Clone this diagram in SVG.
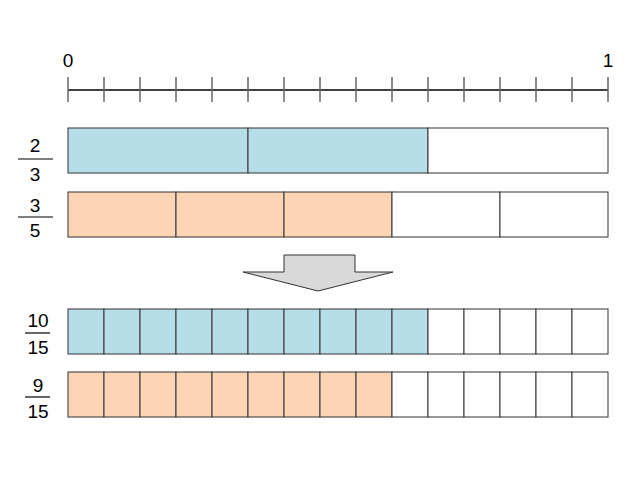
<svg xmlns="http://www.w3.org/2000/svg" width="640" height="480" viewBox="0 0 640 480">
<style>
text{font-family:"Liberation Sans",Arial,sans-serif;font-size:19px;fill:#000;text-anchor:middle}
.tick{stroke:#666;stroke-width:1.5}
.b{fill:#b7dde8;stroke:#333;stroke-width:1}
.o{fill:#fcd5b5;stroke:#333;stroke-width:1}
.w{fill:#fff;stroke:#333;stroke-width:1}
.fl{stroke:#000;stroke-width:1.2}
</style>
<rect width="640" height="480" fill="#fff"/>
<g id="ruler">
<text x="68" y="67">0</text>
<text x="608" y="67">1</text>
<line x1="68" y1="90" x2="608" y2="90" stroke="#000" stroke-width="1.3"/>
<g class="tick">
<line x1="68" y1="77" x2="68" y2="102"/><line x1="104" y1="77" x2="104" y2="102"/><line x1="140" y1="77" x2="140" y2="102"/><line x1="176" y1="77" x2="176" y2="102"/><line x1="212" y1="77" x2="212" y2="102"/><line x1="248" y1="77" x2="248" y2="102"/><line x1="284" y1="77" x2="284" y2="102"/><line x1="320" y1="77" x2="320" y2="102"/><line x1="356" y1="77" x2="356" y2="102"/><line x1="392" y1="77" x2="392" y2="102"/><line x1="428" y1="77" x2="428" y2="102"/><line x1="464" y1="77" x2="464" y2="102"/><line x1="500" y1="77" x2="500" y2="102"/><line x1="536" y1="77" x2="536" y2="102"/><line x1="572" y1="77" x2="572" y2="102"/><line x1="608" y1="77" x2="608" y2="102"/>
</g>
</g>
<g id="row-2-3">
<text x="35" y="152">2</text><line class="fl" x1="18" y1="159" x2="53" y2="159"/><text x="35" y="181">3</text>
<rect class="b" x="68" y="128" width="180" height="45"/>
<rect class="b" x="248" y="128" width="180" height="45"/>
<rect class="w" x="428" y="128" width="180" height="45"/>
</g>
<g id="row-3-5">
<text x="35" y="212">3</text><line class="fl" x1="18" y1="217" x2="53" y2="217"/><text x="35" y="237">5</text>
<rect class="o" x="68" y="192" width="108" height="45"/>
<rect class="o" x="176" y="192" width="108" height="45"/>
<rect class="o" x="284" y="192" width="108" height="45"/>
<rect class="w" x="392" y="192" width="108" height="45"/>
<rect class="w" x="500" y="192" width="108" height="45"/>
</g>
<g id="arrow">
<polygon points="284,255 355,255 355,272 393,272 318,291 243,272 284,272" fill="#d9d9d9" stroke="#333" stroke-width="1"/>
</g>
<g id="row-10-15">
<text x="38" y="327">10</text><line class="fl" x1="25" y1="333" x2="50" y2="333"/><text x="38" y="354">15</text>
<rect class="b" x="68" y="309" width="36" height="45"/><rect class="b" x="104" y="309" width="36" height="45"/><rect class="b" x="140" y="309" width="36" height="45"/><rect class="b" x="176" y="309" width="36" height="45"/><rect class="b" x="212" y="309" width="36" height="45"/><rect class="b" x="248" y="309" width="36" height="45"/><rect class="b" x="284" y="309" width="36" height="45"/><rect class="b" x="320" y="309" width="36" height="45"/><rect class="b" x="356" y="309" width="36" height="45"/><rect class="b" x="392" y="309" width="36" height="45"/>
<rect class="w" x="428" y="309" width="36" height="45"/><rect class="w" x="464" y="309" width="36" height="45"/><rect class="w" x="500" y="309" width="36" height="45"/><rect class="w" x="536" y="309" width="36" height="45"/><rect class="w" x="572" y="309" width="36" height="45"/>
</g>
<g id="row-9-15">
<text x="38" y="392">9</text><line class="fl" x1="25" y1="397" x2="50" y2="397"/><text x="38" y="418">15</text>
<rect class="o" x="68" y="372" width="36" height="45"/><rect class="o" x="104" y="372" width="36" height="45"/><rect class="o" x="140" y="372" width="36" height="45"/><rect class="o" x="176" y="372" width="36" height="45"/><rect class="o" x="212" y="372" width="36" height="45"/><rect class="o" x="248" y="372" width="36" height="45"/><rect class="o" x="284" y="372" width="36" height="45"/><rect class="o" x="320" y="372" width="36" height="45"/><rect class="o" x="356" y="372" width="36" height="45"/>
<rect class="w" x="392" y="372" width="36" height="45"/><rect class="w" x="428" y="372" width="36" height="45"/><rect class="w" x="464" y="372" width="36" height="45"/><rect class="w" x="500" y="372" width="36" height="45"/><rect class="w" x="536" y="372" width="36" height="45"/><rect class="w" x="572" y="372" width="36" height="45"/>
</g>
</svg>
